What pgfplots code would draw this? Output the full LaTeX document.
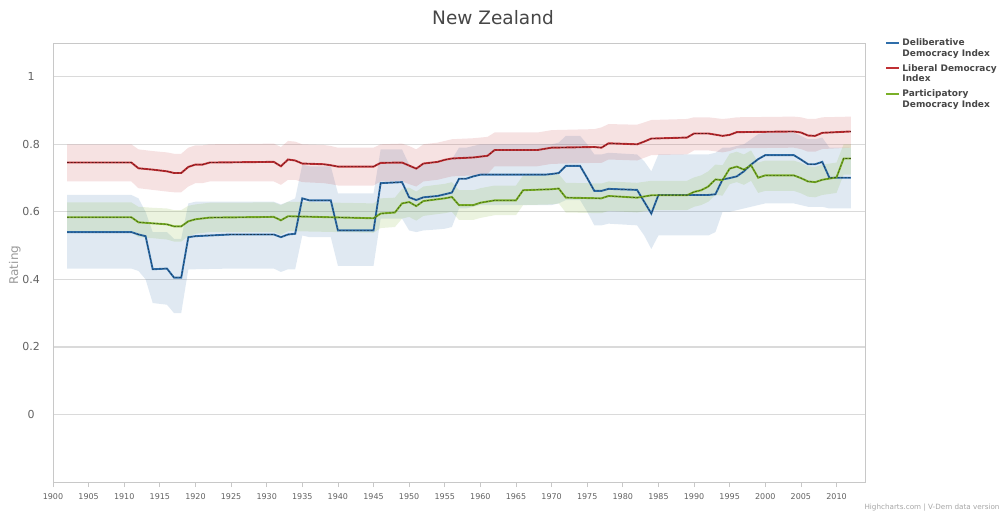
\documentclass[border=0pt]{standalone}
\usepackage{pgfplots}
\pgfplotsset{compat=1.18}
\usepackage{pgfplotstable}
\usepgfplotslibrary{fillbetween}
\usepackage{fontspec}
\setmainfont{DejaVu Sans}
\definecolor{cblue}{RGB}{47,110,170}
\definecolor{cred}{RGB}{192,48,52}
\definecolor{cgreen}{RGB}{122,176,40}
\definecolor{gridc}{RGB}{218,218,218}
\definecolor{framec}{RGB}{200,200,200}
\definecolor{txt}{RGB}{70,70,70}

\pgfplotstableread{
year val lo hi
1902 0.540 0.432 0.650
1911 0.540 0.432 0.650
1912 0.533 0.425 0.640
1913 0.528 0.400 0.600
1914 0.430 0.330 0.540
1916 0.432 0.325 0.540
1917 0.405 0.300 0.520
1918 0.405 0.300 0.520
1919 0.525 0.430 0.625
1920 0.528 0.430 0.630
1925 0.533 0.432 0.630
1931 0.533 0.432 0.630
1932 0.525 0.422 0.622
1933 0.533 0.430 0.630
1934 0.535 0.430 0.640
1935 0.640 0.530 0.740
1936 0.634 0.525 0.735
1939 0.634 0.525 0.735
1940 0.545 0.440 0.655
1945 0.545 0.440 0.655
1946 0.685 0.580 0.785
1949 0.688 0.580 0.785
1950 0.643 0.545 0.740
1951 0.635 0.540 0.730
1952 0.643 0.545 0.740
1954 0.647 0.548 0.745
1955 0.652 0.550 0.750
1956 0.657 0.555 0.755
1957 0.698 0.610 0.790
1958 0.698 0.610 0.790
1959 0.705 0.615 0.795
1960 0.710 0.620 0.800
1969 0.710 0.620 0.800
1970 0.712 0.620 0.800
1971 0.715 0.625 0.805
1972 0.736 0.635 0.825
1974 0.736 0.635 0.825
1975 0.700 0.600 0.800
1976 0.662 0.560 0.770
1977 0.662 0.560 0.770
1978 0.668 0.565 0.775
1982 0.665 0.560 0.770
1983 0.630 0.530 0.750
1984 0.595 0.490 0.720
1985 0.650 0.530 0.770
1992 0.650 0.530 0.770
1993 0.652 0.540 0.775
1994 0.696 0.600 0.790
1995 0.700 0.600 0.790
1996 0.705 0.605 0.795
1997 0.720 0.610 0.800
1998 0.740 0.615 0.815
1999 0.756 0.620 0.830
2000 0.768 0.625 0.835
2004 0.768 0.625 0.835
2005 0.755 0.620 0.825
2006 0.741 0.615 0.815
2007 0.741 0.615 0.815
2008 0.748 0.615 0.820
2009 0.701 0.610 0.790
2012 0.701 0.610 0.790
}\delib

\pgfplotstableread{
year val lo hi
1902 0.746 0.690 0.800
1911 0.746 0.690 0.800
1912 0.729 0.670 0.785
1914 0.725 0.665 0.780
1916 0.720 0.660 0.776
1917 0.715 0.658 0.772
1918 0.715 0.658 0.772
1919 0.733 0.675 0.790
1920 0.740 0.685 0.797
1921 0.740 0.685 0.797
1922 0.746 0.690 0.800
1931 0.748 0.690 0.802
1932 0.735 0.680 0.792
1933 0.755 0.695 0.810
1934 0.752 0.695 0.808
1935 0.743 0.688 0.800
1938 0.741 0.685 0.798
1939 0.738 0.682 0.795
1940 0.734 0.678 0.790
1945 0.734 0.678 0.790
1946 0.745 0.690 0.800
1949 0.746 0.690 0.802
1950 0.737 0.682 0.795
1951 0.728 0.675 0.785
1952 0.743 0.690 0.800
1954 0.748 0.695 0.805
1955 0.754 0.700 0.810
1956 0.758 0.705 0.815
1959 0.761 0.708 0.818
1961 0.766 0.712 0.822
1962 0.783 0.735 0.835
1968 0.783 0.735 0.835
1970 0.790 0.742 0.842
1976 0.792 0.745 0.845
1977 0.790 0.745 0.850
1978 0.803 0.755 0.860
1982 0.800 0.752 0.858
1983 0.808 0.760 0.865
1984 0.817 0.768 0.872
1989 0.820 0.770 0.875
1990 0.832 0.782 0.880
1992 0.832 0.782 0.880
1994 0.825 0.776 0.875
1995 0.828 0.780 0.877
1996 0.836 0.788 0.880
2004 0.838 0.790 0.882
2005 0.835 0.786 0.880
2006 0.826 0.778 0.875
2007 0.825 0.778 0.875
2008 0.834 0.786 0.880
2012 0.838 0.790 0.882
}\liberal

\pgfplotstableread{
year val lo hi
1902 0.584 0.540 0.628
1911 0.584 0.540 0.628
1912 0.569 0.525 0.615
1914 0.566 0.522 0.612
1916 0.563 0.518 0.610
1917 0.557 0.512 0.605
1918 0.557 0.512 0.605
1919 0.572 0.528 0.618
1920 0.578 0.535 0.622
1922 0.583 0.540 0.627
1931 0.585 0.540 0.628
1932 0.575 0.532 0.620
1933 0.587 0.543 0.630
1945 0.581 0.538 0.625
1946 0.595 0.552 0.640
1948 0.598 0.555 0.642
1949 0.625 0.580 0.668
1950 0.629 0.585 0.672
1951 0.617 0.574 0.660
1952 0.632 0.588 0.675
1955 0.640 0.596 0.683
1956 0.644 0.600 0.688
1957 0.620 0.576 0.664
1959 0.620 0.576 0.664
1960 0.627 0.582 0.670
1962 0.634 0.590 0.678
1965 0.634 0.590 0.678
1966 0.664 0.620 0.708
1970 0.667 0.622 0.710
1971 0.669 0.625 0.712
1972 0.642 0.598 0.686
1977 0.640 0.596 0.684
1978 0.647 0.603 0.690
1982 0.642 0.598 0.686
1984 0.649 0.605 0.692
1989 0.649 0.605 0.692
1990 0.659 0.615 0.702
1991 0.664 0.620 0.708
1992 0.675 0.630 0.720
1993 0.696 0.650 0.740
1994 0.694 0.648 0.738
1995 0.728 0.682 0.772
1996 0.734 0.688 0.778
1997 0.725 0.680 0.770
1998 0.738 0.692 0.782
1999 0.701 0.656 0.746
2000 0.708 0.662 0.752
2004 0.708 0.662 0.752
2005 0.700 0.655 0.745
2006 0.690 0.645 0.735
2007 0.688 0.643 0.733
2008 0.695 0.650 0.740
2010 0.702 0.656 0.746
2011 0.758 0.710 0.800
2012 0.758 0.710 0.800
}\partic

\begin{document}
\begin{tikzpicture}
\begin{axis}[
  at={(53pt,33pt)}, anchor=south west,
  scale only axis, width=812pt, height=439pt,
  xmin=1900, xmax=2014, ymin=-0.2, ymax=1.1,
  xtick={1900,1905,...,2010},
  ytick={0,0.2,0.4,0.6,0.8,1},
  yticklabels={0,0.2,0.4,0.6,0.8,1},
  xticklabel style={font=\fontsize{8}{9}\selectfont, text=txt!85, yshift=-3pt},
  yticklabel style={font=\fontsize{11}{13}\selectfont, text=txt!85, anchor=center, xshift=-17pt},
  /pgf/number format/assume math mode=true,
  /pgf/number format/1000 sep={},
  tick align=outside,
  xtick pos=left,
  major tick length=5pt,
  x tick style={draw=framec, line width=0.8pt},
  y tick style={draw=none},
  ymajorgrids, grid style={draw=gridc, line width=1.3pt},
  axis line style={draw=framec, line width=0.9pt},
  ylabel={Rating},
  ylabel style={at={(axis description cs:-0.047,0.494)}, anchor=center, font=\fontsize{12}{14}\selectfont, text=gray!80},
  legend style={at={(1.021,1.032)}, anchor=north west, draw=none, fill=none,
    font=\bfseries\fontsize{9}{10.5}\selectfont, text=txt,
    cells={anchor=north west, align=left}, row sep=-3pt},
  legend image code/.code={\path (0pt,4.6pt); \draw[#1, line width=2.2pt] (0pt,-6pt) -- (13pt,-6pt);},
]
% bands
\addplot[draw=none, name path=bh, forget plot] table[x=year,y=hi]{\delib};
\addplot[draw=none, name path=bl, forget plot] table[x=year,y=lo]{\delib};
\addplot[fill=cblue, fill opacity=0.15, draw=none, forget plot] fill between[of=bh and bl];
\addplot[draw=none, name path=rh, forget plot] table[x=year,y=hi]{\liberal};
\addplot[draw=none, name path=rl, forget plot] table[x=year,y=lo]{\liberal};
\addplot[fill=cred, fill opacity=0.14, draw=none, forget plot] fill between[of=rh and rl];
\addplot[draw=none, name path=gh, forget plot] table[x=year,y=hi]{\partic};
\addplot[draw=none, name path=gl, forget plot] table[x=year,y=lo]{\partic};
\addplot[fill=cgreen, fill opacity=0.15, draw=none, forget plot] fill between[of=gh and gl];
% lines
\addplot[cblue, line width=1.9pt] table[x=year,y=val]{\delib};
\addlegendentry{Deliberative\\Democracy Index}
\addplot[cred, line width=1.9pt] table[x=year,y=val]{\liberal};
\addlegendentry{Liberal Democracy\\Index}
\addplot[cgreen, line width=1.9pt] table[x=year,y=val]{\partic};
\addlegendentry{Participatory\\Democracy Index}
% dark dashed cores
\addplot[cblue!50!black, line width=0.6pt, dash pattern=on 2pt off 1.5pt, forget plot] table[x=year,y=val]{\delib};
\addplot[cred!50!black, line width=0.6pt, dash pattern=on 2pt off 1.5pt, forget plot] table[x=year,y=val]{\liberal};
\addplot[cgreen!50!black, line width=0.6pt, dash pattern=on 2pt off 1.5pt, forget plot] table[x=year,y=val]{\partic};
\end{axis}
\node[font=\fontsize{18.5}{22}\selectfont, text=txt] at (493pt,497pt) {New Zealand};
\node[anchor=west, font=\fontsize{7.2}{9}\selectfont, text=gray!70] at (861pt,7pt) {Highcharts.com | V-Dem data version};
\pgfresetboundingbox
\useasboundingbox (0pt,0pt) rectangle (1002pt,515pt);
\end{tikzpicture}
\end{document}
